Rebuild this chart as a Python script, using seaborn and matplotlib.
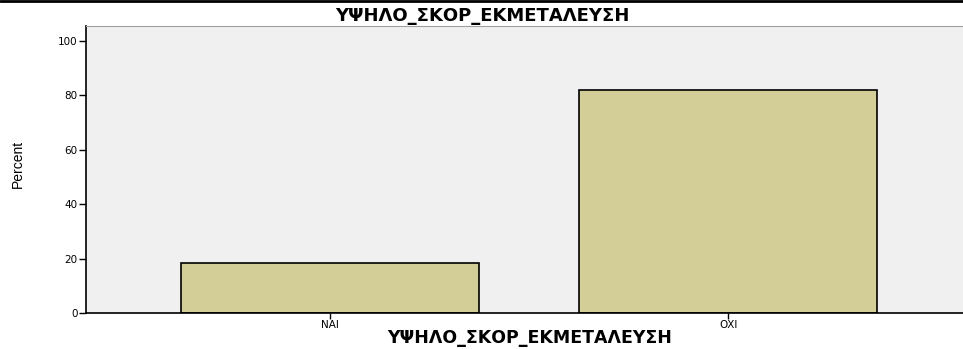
import pandas as pd
import matplotlib
matplotlib.use('Agg')
import matplotlib.pyplot as plt
import seaborn as sns

categories = ['ΝΑΙ', 'ΟΧΙ']
percents = [18.2, 81.8]
yticks = [0, 20, 40, 60, 80, 100]
title = 'ΥΨΗΛΟ_ΣΚΟΡ_ΕΚΜΕΤΑΛΕΥΣΗ'

df = pd.DataFrame({'cat': categories, 'pct': percents})

sns.set_style('white')
plt.rcParams['font.family'] = ['DejaVu Sans']
plt.rcParams['text.color'] = 'black'

fig = plt.figure(figsize=(9.63, 3.49), dpi=100)
ax = fig.add_axes([86 / 963, 36 / 349, 1 - 86 / 963, 287 / 349])
ax.set_facecolor('#F0F0F0')

sns.barplot(data=df, x='cat', y='pct', color='#D3CE98', saturation=1,
            edgecolor='black', linewidth=1.2, width=0.75, ax=ax)

ax.set_xlim(-0.613, 1.59)
ax.set_ylim(0, 105.5)
ax.set_yticks(yticks)
ax.tick_params(axis='both', direction='out', length=5, width=1, colors='black',
               labelsize=7.5, bottom=True, left=True)
ax.tick_params(axis='x', length=4, pad=1)
ax.tick_params(axis='y', pad=1)
ax.set_xlabel('')
ax.set_ylabel('')

for s in ['left', 'bottom']:
    ax.spines[s].set_color('black')
    ax.spines[s].set_linewidth(1.2)
ax.spines['top'].set_color('#A0A0A0')
ax.spines['right'].set_visible(False)

fig.text(482 / 963, 1 - 16 / 349, title, ha='center', va='center',
         fontsize=13, fontweight='bold', color='black')
fig.text(530 / 963, 1 - 338 / 349, title, ha='center', va='center',
         fontsize=12.5, fontweight='bold', color='black')
fig.text(18 / 963, 1 - 164 / 349, 'Percent', ha='center', va='center',
         rotation=90, fontsize=10, color='black',
         family=['Liberation Sans Narrow', 'Liberation Sans'])

fig.add_artist(plt.Line2D([0, 1], [1 - 1 / 349, 1 - 1 / 349], color='black',
                          linewidth=2, transform=fig.transFigure))

fig.savefig('out.png', dpi=100)
